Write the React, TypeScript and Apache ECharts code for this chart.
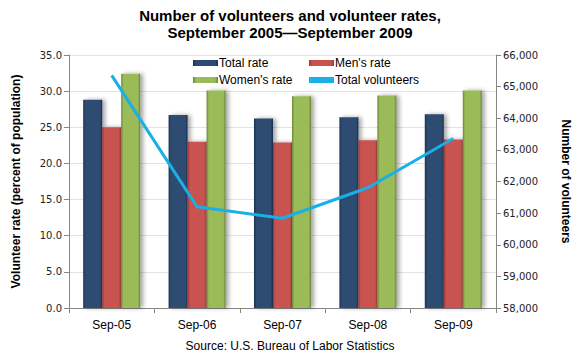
import React, { useEffect, useRef } from "react";
import * as echarts from "echarts";

const categories = ["Sep-05", "Sep-06", "Sep-07", "Sep-08", "Sep-09"];
const totalRate = [28.8, 26.7, 26.2, 26.4, 26.8];
const mensRate = [25.0, 23.0, 22.9, 23.2, 23.3];
const womensRate = [32.4, 30.1, 29.3, 29.4, 30.1];
const totalVolunteers = [65357, 61199, 60838, 61803, 63361];

const grad = (edge: string, mid: string) =>
  new echarts.graphic.LinearGradient(0, 0, 1, 0, [
    { offset: 0, color: edge },
    { offset: 0.12, color: mid },
    { offset: 0.5, color: mid },
    { offset: 0.88, color: mid },
    { offset: 1, color: edge },
  ]);

export default function App() {
  const ref = useRef<HTMLDivElement>(null);
  useEffect(() => {
    if (!ref.current) return;
    const chart = echarts.init(ref.current, undefined, { renderer: "svg" });
    const font = "Arial, 'Liberation Sans', sans-serif";
    const barStyle = (edge: string, mid: string) => ({
      color: grad(edge, mid),
      shadowColor: "rgba(0,0,0,0.35)",
      shadowBlur: 4,
      shadowOffsetX: 3,
      shadowOffsetY: 0,
    });
    const legendBase = {
      orient: "horizontal" as const,
      itemWidth: 25,
      itemHeight: 6,
      itemGap: 4,
      textStyle: { fontFamily: font, fontSize: 12, color: "#000", padding: [0, 0, 0, -4] },
      padding: 0,
    };
    chart.setOption({
      animation: false,
      backgroundColor: "#fff",
      title: {
        text: "Number of volunteers and volunteer rates,\nSeptember 2005\u2014September 2009",
        left: "center",
        top: 2,
        textStyle: { fontFamily: font, fontSize: 15, fontWeight: "bold", color: "#000", lineHeight: 17 },
      },
      legend: [
        { ...legendBase, left: 193, top: 57, data: [{ name: "Total rate", icon: "rect" }] },
        { ...legendBase, left: 309, top: 57, data: [{ name: "Men's rate", icon: "rect" }] },
        { ...legendBase, left: 193, top: 74, data: [{ name: "Women's rate", icon: "rect" }] },
        { ...legendBase, left: 309, top: 74, data: [{ name: "Total volunteers", icon: "rect" }] },
      ],
      grid: { left: 69, right: 84, top: 55, bottom: 52 },
      xAxis: {
        type: "category",
        data: categories,
        boundaryGap: true,
        axisLine: { lineStyle: { color: "#868686" } },
        axisTick: { show: true, length: 5, lineStyle: { color: "#868686" } },
        axisLabel: { fontFamily: font, fontSize: 12, color: "#000", margin: 11 },
      },
      yAxis: [
        {
          type: "value",
          min: 0,
          max: 35,
          interval: 5,
          name: "Volunteer rate (percent of population)",
          nameLocation: "middle",
          nameRotate: 90,
          nameGap: 47,
          nameTextStyle: { fontFamily: font, fontSize: 12, fontWeight: "bold", color: "#000" },
          axisLine: { show: true, lineStyle: { color: "#868686" } },
          axisTick: { show: true, length: 5, lineStyle: { color: "#868686" } },
          axisLabel: {
            fontFamily: "Verdana, 'DejaVu Sans', sans-serif",
            fontSize: 10,
            color: "#222",
            margin: 7,
            formatter: (v: number) => v.toFixed(1),
          },
          splitLine: { show: true, lineStyle: { color: "#E3E3E3" } },
        },
        {
          type: "value",
          min: 58000,
          max: 66000,
          interval: 1000,
          position: "right",
          name: "Number of volunteers",
          nameLocation: "middle",
          nameRotate: -90,
          nameGap: 64,
          nameTextStyle: { fontFamily: font, fontSize: 12, fontWeight: "bold", color: "#000" },
          axisLine: { show: true, lineStyle: { color: "#868686" } },
          axisTick: { show: true, length: 5, lineStyle: { color: "#868686" } },
          axisLabel: {
            fontFamily: "Verdana, 'DejaVu Sans', sans-serif",
            fontSize: 10,
            color: "#222",
            margin: 7,
            formatter: (v: number) => v.toLocaleString("en-US"),
          },
          splitLine: { show: false },
        },
      ],
      series: [
        {
          name: "Total rate",
          type: "bar",
          data: totalRate,
          barWidth: 19,
          barGap: "0%",
          itemStyle: barStyle("#1B2F4B", "#2D4B72"),
          z: 2,
        },
        {
          name: "Men's rate",
          type: "bar",
          data: mensRate,
          barWidth: 19,
          barGap: "0%",
          itemStyle: barStyle("#963633", "#C9524F"),
          z: 2,
        },
        {
          name: "Women's rate",
          type: "bar",
          data: womensRate,
          barWidth: 19,
          barGap: "0%",
          itemStyle: barStyle("#6A8535", "#9BBB59"),
          z: 2,
        },
        {
          name: "Total volunteers",
          type: "line",
          yAxisIndex: 1,
          data: totalVolunteers,
          showSymbol: false,
          symbol: "none",
          lineStyle: { color: "#1AAFE6", width: 3 },
          itemStyle: { color: "#1AAFE6" },
          z: 5,
        },
      ],
      graphic: [
        {
          type: "text",
          left: "center",
          top: 340,
          style: {
            text: "Source: U.S. Bureau of Labor Statistics",
            font: `12px ${font}`,
            fill: "#000",
          },
        },
      ],
    });
    return () => chart.dispose();
  }, []);
  return <div ref={ref} style={{ width: 580, height: 360, position: "absolute", left: 0, top: 0 }} />;
}
